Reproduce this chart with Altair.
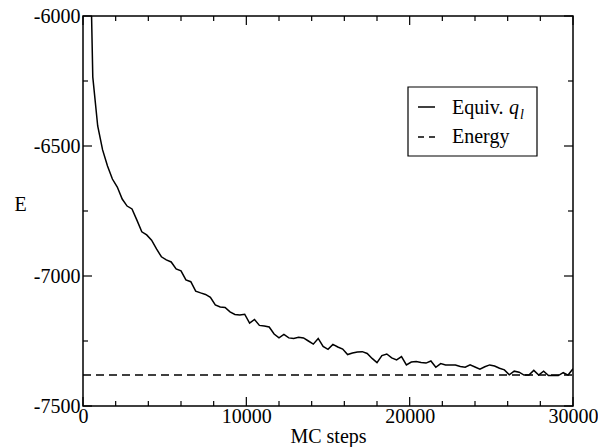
import altair as alt
import pandas as pd

# ---- data ----
mc_steps = list(range(300, 30001, 300))
equiv_ql = [
    -5300, -6235, -6423, -6515, -6577, -6627, -6658, -6704, -6731, -6742,
    -6785, -6830, -6842, -6862, -6896, -6926, -6938, -6946, -6973, -6980,
    -7015, -7022, -7058, -7065, -7071, -7082, -7111, -7119, -7121, -7138,
    -7148, -7150, -7147, -7181, -7167, -7190, -7192, -7196, -7223, -7238,
    -7225, -7238, -7240, -7236, -7238, -7250, -7262, -7240, -7271, -7282,
    -7263, -7273, -7281, -7302, -7296, -7292, -7291, -7298, -7317, -7333,
    -7306, -7300, -7315, -7323, -7310, -7342, -7331, -7329, -7333, -7335,
    -7327, -7351, -7337, -7342, -7342, -7342, -7348, -7351, -7342, -7350,
    -7358, -7349, -7342, -7346, -7355, -7361, -7380, -7366, -7370, -7381,
    -7381, -7363, -7381, -7366, -7383, -7383, -7383, -7372, -7381, -7357,
]
energy_steps = [0, 30000]
energy_value = [-7381, -7381]

x_major = [0, 10000, 20000, 30000]
x_minor = [2000, 4000, 6000, 8000, 12000, 14000, 16000, 18000,
           22000, 24000, 26000, 28000]
y_major = [-6000, -6500, -7000, -7500]
y_minor = [-6250, -6750, -7250]

legend_labels = ["Equiv.", "Energy"]

W, H = 490, 390
FONT = "Liberation Serif"
FS = 20

xscale = alt.Scale(domain=[0, 30000], nice=False, zero=False)
yscale = alt.Scale(domain=[-7500, -6000], nice=False, zero=False)

xaxis = alt.Axis(values=x_major, title="MC steps", labelExpr="datum.value + ''",
                 labelFlush=False, labelOverlap=False, labelPadding=16,
                 labelBaseline="alphabetic", titleY=36, titleX=245,
                 titleBaseline="alphabetic", titleAlign="center")
yaxis = alt.Axis(values=y_major, title="E", labelExpr="datum.value + ''",
                 labelFlush=False, labelOverlap=False, labelPadding=3,
                 labelBaseline="middle", titleAngle=0, titleX=-63,
                 titleY=188, titleAlign="center", titleBaseline="middle")

X = alt.X("step:Q", scale=xscale, axis=xaxis)
Y = alt.Y("E:Q", scale=yscale, axis=yaxis)

curve_df = pd.DataFrame({"step": mc_steps, "E": equiv_ql})
energy_df = pd.DataFrame({"step": energy_steps, "E": energy_value})

curve = alt.Chart(curve_df).mark_line(color="black", strokeWidth=1.5, clip=True).encode(
    x=X, y=Y)

energy = alt.Chart(energy_df).mark_line(color="black", strokeWidth=1.5,
                                         strokeDash=[8, 5]).encode(x=X, y=Y)

def xticks(vals, length):
    df = pd.DataFrame({"step": vals})
    bot = alt.Chart(df).mark_rule(color="black", strokeWidth=1.2).encode(
        x=X, y=alt.value(H), y2=alt.value(H - length))
    top = alt.Chart(df).mark_rule(color="black", strokeWidth=1.2).encode(
        x=X, y=alt.value(0), y2=alt.value(length))
    return [bot, top]

def yticks(vals, length):
    df = pd.DataFrame({"E": vals})
    left = alt.Chart(df).mark_rule(color="black", strokeWidth=1.2).encode(
        y=Y, x=alt.value(0), x2=alt.value(length))
    right = alt.Chart(df).mark_rule(color="black", strokeWidth=1.2).encode(
        y=Y, x=alt.value(W), x2=alt.value(W - length))
    return [left, right]

ticks = xticks(x_major, 9) + xticks(x_minor, 5) + yticks(y_major, 9) + yticks(y_minor, 5)

# ---- legend box ----
one = pd.DataFrame({"k": [0]})
leg_box = alt.Chart(one).mark_rect(fill="white", stroke="black", strokeWidth=1.2).encode(
    x=alt.value(325), x2=alt.value(454), y=alt.value(71), y2=alt.value(140))
leg_solid = alt.Chart(one).mark_rule(color="black", strokeWidth=1.5).encode(
    x=alt.value(335), x2=alt.value(352), y=alt.value(91))
leg_dash = alt.Chart(one).mark_rule(color="black", strokeWidth=1.5, strokeDash=[6, 5]).encode(
    x=alt.value(335), x2=alt.value(352), y=alt.value(121))
leg_text1 = alt.Chart(pd.DataFrame({"label": [legend_labels[0]]})).mark_text(
    font=FONT, fontSize=FS, align="left", baseline="alphabetic", color="black").encode(
    x=alt.value(369), y=alt.value(98), text="label:N")
leg_q = alt.Chart(pd.DataFrame({"label": ["q"]})).mark_text(
    font=FONT, fontSize=FS, fontStyle="italic", align="left", baseline="alphabetic",
    color="black").encode(x=alt.value(426), y=alt.value(98), text="label:N")
leg_l = alt.Chart(pd.DataFrame({"label": ["l"]})).mark_text(
    font=FONT, fontSize=14, fontStyle="italic", align="left", baseline="alphabetic",
    color="black").encode(x=alt.value(437), y=alt.value(103), text="label:N")
leg_text2 = alt.Chart(pd.DataFrame({"label": [legend_labels[1]]})).mark_text(
    font=FONT, fontSize=FS, align="left", baseline="alphabetic", color="black").encode(
    x=alt.value(369), y=alt.value(127), text="label:N")

chart = alt.layer(
    curve, energy, *ticks, leg_box, leg_solid, leg_dash, leg_text1, leg_q, leg_l, leg_text2
).properties(
    width=W, height=H,
    autosize=alt.AutoSizeParams(type="none"),
    padding={"left": 75, "top": 8, "right": 25, "bottom": 41},
).configure_view(
    stroke="black", strokeWidth=1.5
).configure_axis(
    grid=False, ticks=False, domain=False,
    labelFont=FONT, labelFontSize=FS, labelColor="black",
    titleFont=FONT, titleFontSize=FS, titleColor="black", titleFontWeight="normal",
)

chart.save("out.html", embed_options={"renderer": "svg", "actions": False})
